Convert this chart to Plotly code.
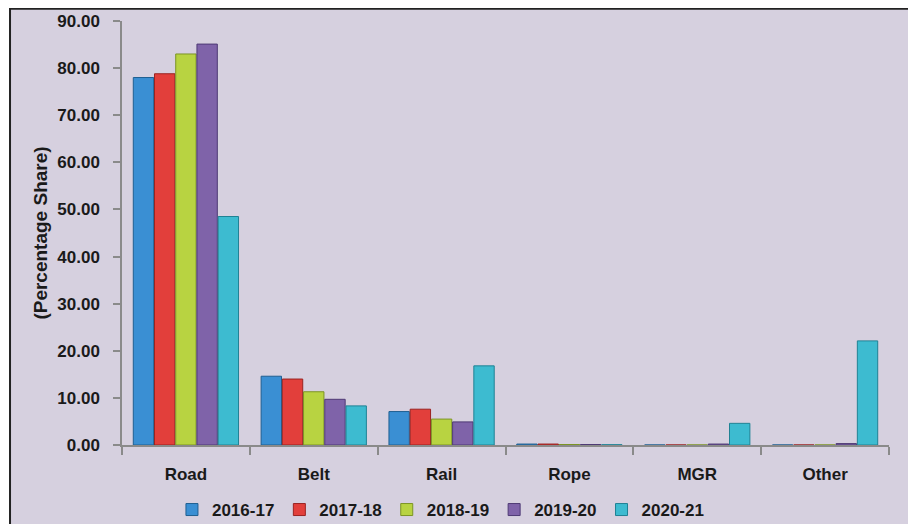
import plotly.graph_objects as go

categories = ["Road", "Belt", "Rail", "Rope", "MGR", "Other"]
years = ["2016-17", "2017-18", "2018-19", "2019-20", "2020-21"]
s2016_17 = [78.0, 14.6, 7.1, 0.2, 0.0, 0.0]
s2017_18 = [78.8, 14.0, 7.6, 0.2, 0.0, 0.0]
s2018_19 = [83.0, 11.3, 5.5, 0.1, 0.0, 0.0]
s2019_20 = [85.1, 9.7, 4.9, 0.1, 0.2, 0.3]
s2020_21 = [48.5, 8.3, 16.8, 0.05, 4.6, 22.1]
series = [s2016_17, s2017_18, s2018_19, s2019_20, s2020_21]
y_ticks = [0, 10, 20, 30, 40, 50, 60, 70, 80, 90]

colors = ["#3a8fd3", "#e23f3b", "#b8d341", "#7f63a9", "#3dbbd0"]
edges = ["#1f5f91", "#9a2321", "#7c9424", "#4f3a75", "#1f8294"]

FONT = "Liberation Sans, Arial, sans-serif"

fig = go.Figure()
for name, vals, c, e in zip(years, series, colors, edges):
    fig.add_trace(go.Bar(
        x=categories, y=vals, name=name,
        marker=dict(color=c, line=dict(color=e, width=1)),
    ))

# plot area (in the screenshot) x 122..889, y 21..445
fig.add_shape(type="rect", xref="paper", yref="paper",
              x0=-0.146, x1=1.06, y0=-0.25, y1=1.029,
              fillcolor="#d6d0df", line=dict(color="#222222", width=2),
              layer="below")

fig.update_layout(
    width=916, height=524,
    margin=dict(l=114, r=35, t=13, b=87, autoexpand=False),
    paper_bgcolor="white",
    plot_bgcolor="rgba(0,0,0,0)",
    barmode="group", bargap=0.17, bargroupgap=0.04,
    font=dict(family=FONT, size=17, color="#1a1a1a"),
    showlegend=True,
    legend=dict(orientation="h", xref="container", yref="container",
                x=0.179, xanchor="left", y=0.042, yanchor="middle",
                font=dict(family=FONT, size=17, color="#1a1a1a", weight="bold"),
                bgcolor="rgba(0,0,0,0)", traceorder="normal"),
)

fig.update_xaxes(
    type="category", showline=True, linecolor="#8a8a8a", linewidth=2,
    ticks="outside", tickson="boundaries", ticklen=8, tickcolor="#8a8a8a", tickwidth=1.5,
    tickfont=dict(family=FONT, size=17, color="#1a1a1a", weight="bold"),
    ticklabelstandoff=13, showgrid=False, zeroline=False, automargin=False,
)
fig.update_yaxes(
    range=[0, 90], tickvals=y_ticks, tickformat=".2f",
    showline=True, linecolor="#8a8a8a", linewidth=1.5,
    ticks="outside", ticklen=7, tickcolor="#8a8a8a", tickwidth=1.5,
    tickfont=dict(family=FONT, size=17, color="#1a1a1a", weight="bold"),
    ticklabelstandoff=10, showgrid=False, zeroline=False, automargin=False,
    title=dict(text="(Percentage Share)", standoff=5,
               font=dict(family=FONT, size=19, color="#1a1a1a", weight="bold")),
)

fig.write_html("out.html")
